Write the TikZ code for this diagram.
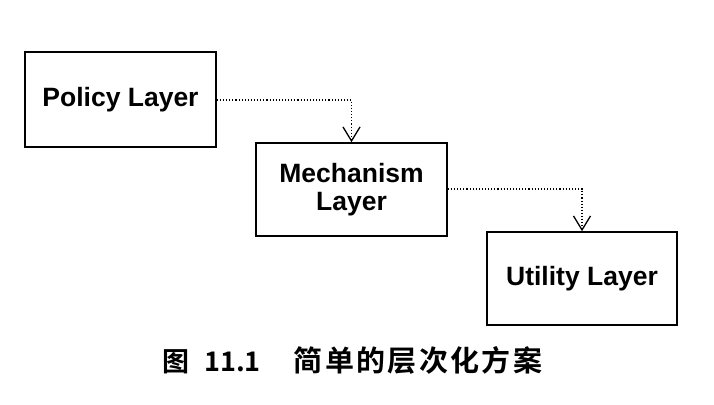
\documentclass[tikz,border=0pt]{standalone}
\usepackage{fontspec}
\setmainfont{Liberation Sans}
\newfontfamily\cjk{Noto Sans CJK SC Bold}
\newfontfamily\cjkwide[LetterSpace=8]{Noto Sans CJK SC Bold}
\usetikzlibrary{arrows.meta}
\begin{document}
\begin{tikzpicture}[x=1pt,y=-1pt,
  layer/.style={draw,line width=1.6pt,inner sep=0pt,font=\fontsize{26.5}{28}\selectfont\bfseries,align=center},
  link/.style={dotted,line width=1.1pt,-{Straight Barb[length=14pt,width=17pt,line width=1.3pt]}}]
\useasboundingbox (0,0) rectangle (714,404);
\node[layer,minimum width=191pt,minimum height=95pt] (policy) at (120.5,99.5) {Policy Layer};
\node[layer,minimum width=191pt,minimum height=93pt] (mech) at (351.5,189.5) {Mechanism\\Layer};
\node[layer,minimum width=190pt,minimum height=93pt] (util) at (582,278.5) {Utility Layer};
\draw[link] (policy.east |- 0,100) -| (mech.north);
\draw[link] (mech.east |- 0,189) -| (util.north);
\node[font=\fontsize{27}{30}\selectfont,anchor=west,inner sep=0pt] (cap) at (162,360) {\cjk 图\hspace{15pt}11.1\hspace{33pt}{\fontsize{29}{30}\selectfont\cjkwide 简单的层次化方案}};
\end{tikzpicture}
\end{document}
